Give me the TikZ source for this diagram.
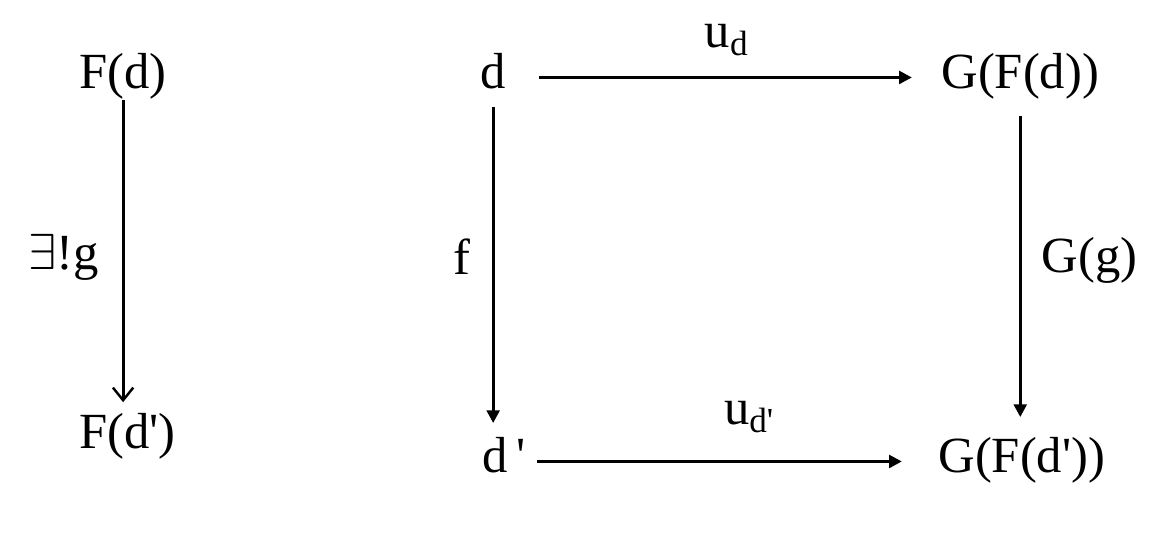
\documentclass[tikz,border=0pt]{standalone}
\usepackage{fontspec}
\setmainfont{Liberation Serif}
\usetikzlibrary{arrows.meta,positioning}

\begin{document}
\begin{tikzpicture}[x=0.01cm,y=-0.01cm,font=\Large,line width=0.85pt,
  ob/.style={inner sep=0pt,anchor=base west,text height=0.75em,text depth=0.15em},
  lab/.style={inner sep=0pt},
  uarr/.style={-{Straight Barb[length=3.6pt,width=5.8pt,line width=0.7pt]}},
  arr/.style={-{Triangle[length=3.6pt,width=3.6pt]}}]
\useasboundingbox (0,0) rectangle (1149,535);
% left: the unique g
\node[ob] (Fd) at (78,88) {F(d)};
\node[ob] (Fdp) at (78,448) {F(d\textquotesingle)};
\draw[uarr,shorten <=1.5pt,shorten >=5.1pt] (Fd.south) -- (Fd.south |- Fdp.north)
  node[lab,midway,left=6.5pt]{$\exists$!g};
% right: the square
\node[ob] (d) at (479,88) {d};
\node[ob] (GFd) at (940,88) {G(F(d))};
\node[ob] (dp) at (481,472) {d\,\textquotesingle};
\node[ob] (GFdp) at (937,472) {G(F(d\textquotesingle))};
\path[arr]
(d) edge[shorten <=9.1pt,shorten >=8pt] node[lab,above=5.7pt,xshift=1pt]{u\textsubscript{d}} (GFd)
(dp) edge[shorten <=3pt,shorten >=10pt] node[lab,above=7.7pt,xshift=5pt]{u\textsubscript{d\textquotesingle}} (GFdp);
\draw[arr,shorten <=3.5pt,shorten >=6pt] (d.south) -- (d.south |- dp.north)
  node[lab,midway,left=6pt,yshift=3.7pt]{f};
\draw[arr,shorten <=6pt,shorten >=7.7pt] (GFd.south) -- (GFd.south |- GFdp.north)
  node[lab,midway,right=5.7pt,yshift=2.6pt]{G(g)};
\end{tikzpicture}
\end{document}
